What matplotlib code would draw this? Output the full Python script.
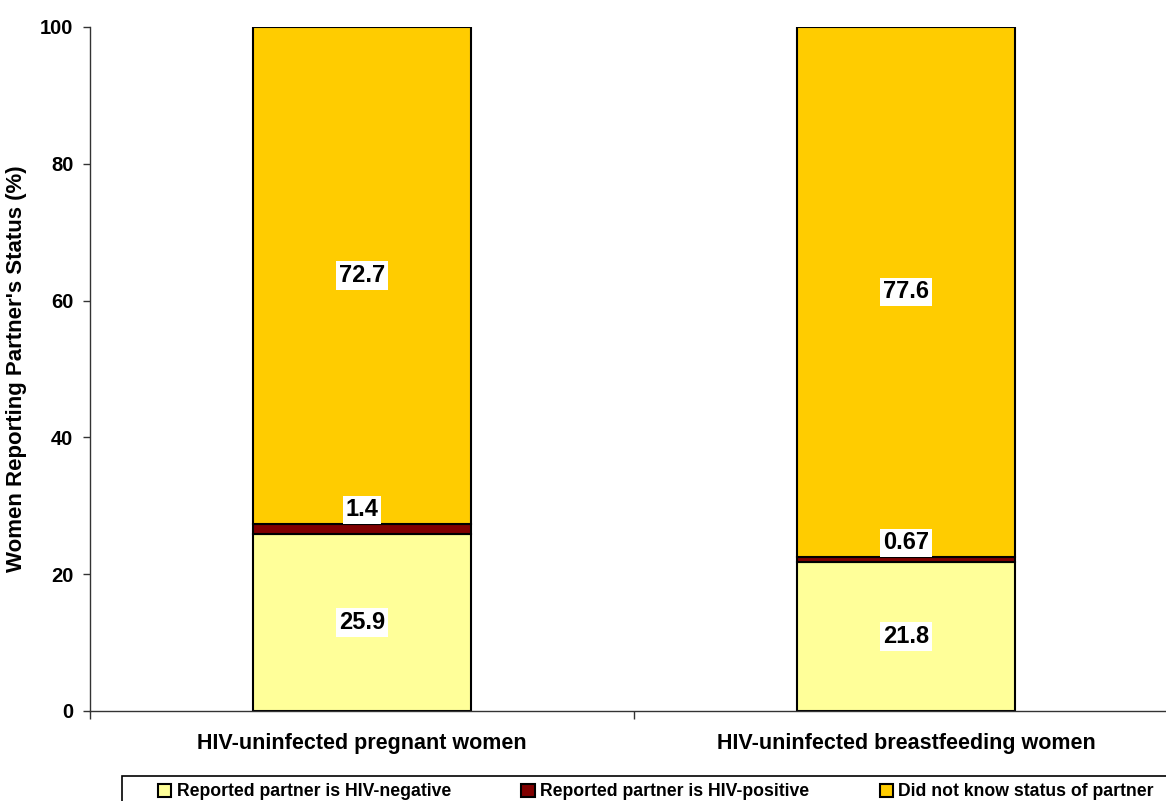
import numpy as np
import matplotlib.pyplot as plt
from matplotlib.patches import Patch, Rectangle

plt.rcParams['font.family'] = ['Liberation Sans', 'DejaVu Sans']
plt.rcParams['font.weight'] = 'bold'

groups = ['HIV-uninfected pregnant women', 'HIV-uninfected breastfeeding women']
series_names = ['Reported partner is HIV-negative',
                'Reported partner is HIV-positive',
                'Did not know status of partner']
hiv_negative = [25.9, 21.8]
hiv_positive = [1.4, 0.67]
unknown = [72.7, 77.6]
seg_labels = [['25.9', '21.8'], ['1.4', '0.67'], ['72.7', '77.6']]

colors = ['#FFFF99', '#800000', '#FFCC00']

W, H = 1166, 801
fig = plt.figure(figsize=(W / 100, H / 100), dpi=100)
ax = fig.add_axes([90 / W, 1 - 711 / H, 1088 / W, 684 / H])

x = np.arange(len(groups))
width = 0.40
bottom = np.zeros(len(groups))
for i, vals in enumerate([hiv_negative, hiv_positive, unknown]):
    vals = np.array(vals)
    ax.bar(x, vals, width, bottom=bottom, color=colors[i],
           edgecolor='black', linewidth=1.5, label=series_names[i], zorder=2)
    for j in range(len(groups)):
        if vals[j] < 5:
            # thin segment: put the label just above it
            y = bottom[j] + vals[j] + 2.1
        else:
            y = bottom[j] + vals[j] / 2
        ax.text(x[j], y, seg_labels[i][j], ha='center', va='center',
                fontsize=17, fontweight='bold', zorder=4,
                bbox=dict(boxstyle='square,pad=0.12', facecolor='white',
                          edgecolor='none'))
    bottom += vals

ax.set_xlim(-0.5, 1.5)
ax.set_ylim(0, 100)
ax.set_yticks([0, 20, 40, 60, 80, 100])
ax.tick_params(axis='y', labelsize=14.5, length=5, width=1, color='#333333', pad=7)
ax.set_xticks(x)
ax.set_xticklabels(groups, fontsize=15.5, fontweight='bold')
ax.set_xticks([-0.5, 0.5, 1.5], minor=True)
ax.tick_params(axis='x', which='major', length=0, pad=16)
ax.tick_params(axis='x', which='minor', length=6, width=1, color='#333333')

for side in ['top', 'right']:
    ax.spines[side].set_visible(False)
for side in ['left', 'bottom']:
    ax.spines[side].set_color('#333333')
    ax.spines[side].set_linewidth(1)

ax.set_ylabel("Women Reporting Partner's Status (%)", fontsize=16,
              fontweight='bold')
ax.yaxis.set_label_coords(-63 / 1088, 0.5)

# legend box runs off the bottom/right edge of the figure
fig.add_artist(Rectangle((122 / W, -0.05), 1.0, 1 - 776 / H + 0.05,
                         transform=fig.transFigure, facecolor='white',
                         edgecolor='black', linewidth=1.2))
handles = [Patch(facecolor=c, edgecolor='black', linewidth=1.5) for c in colors]
fig.legend(handles, series_names, ncol=3, loc='center left',
           bbox_to_anchor=(158 / W, 1 - 792 / H),
           prop={'size': 12.7, 'weight': 'bold'},
           handlelength=0.75, handleheight=0.75, handletextpad=0.3,
           columnspacing=4.0, borderpad=0, borderaxespad=0,
           frameon=False)

fig.savefig('out.png', dpi=100)
